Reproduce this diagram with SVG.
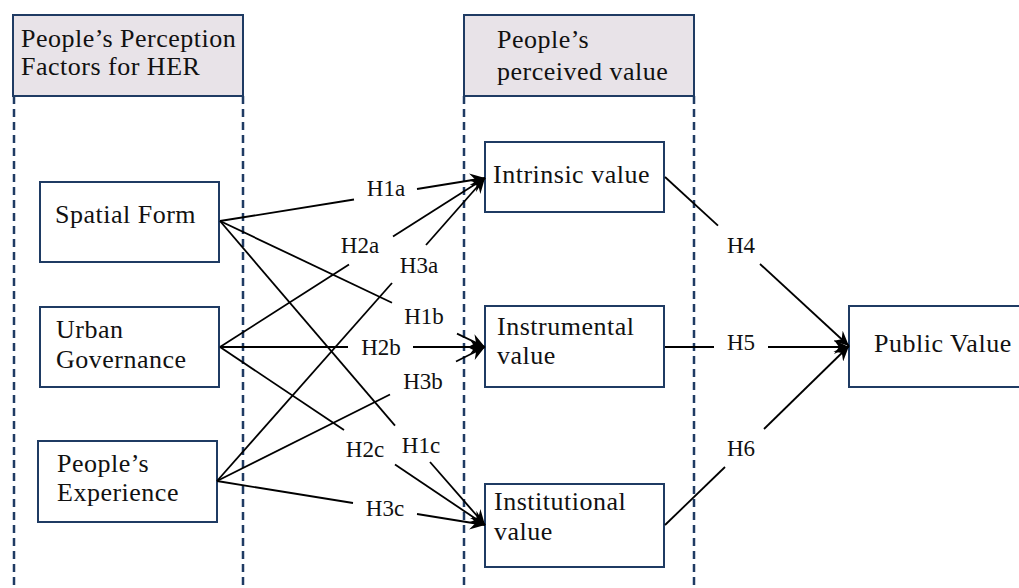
<svg xmlns="http://www.w3.org/2000/svg" width="1019" height="588" viewBox="0 0 1019 588">
<style>
.hdr{fill:#e8e3e8;stroke:#1f3b63;stroke-width:2}
.box{fill:#fff;stroke:#1f3b63;stroke-width:2}
.dash{stroke:#1f3b63;stroke-width:2.5;stroke-dasharray:8 5;fill:none}
.t{font-family:"Liberation Serif","Times New Roman",serif;font-size:26px;letter-spacing:0.5px;fill:#111}
.lbl{font-family:"Liberation Serif","Times New Roman",serif;font-size:23px;fill:#111;text-anchor:middle}
.c line{stroke:#000;stroke-width:1.8}
.c .a{marker-end:url(#ah)}
</style>
<defs>
<marker id="ah" markerUnits="userSpaceOnUse" markerWidth="16" markerHeight="14" refX="15" refY="7" orient="auto">
<path d="M0,0 L15,7 L0,14 L5,7 Z" fill="#000"/>
</marker>
</defs>
<g id="columns">
<line class="dash" x1="14" y1="96" x2="14" y2="588"/>
<line class="dash" x1="243" y1="96" x2="243" y2="588"/>
<line class="dash" x1="464" y1="96" x2="464" y2="588"/>
<line class="dash" x1="694" y1="96" x2="694" y2="588"/>
</g>
<g id="header-left">
<rect class="hdr" x="13" y="15" width="230" height="81"/>
<text class="t" x="21" y="47">People’s Perception</text>
<text class="t" x="21" y="75">Factors for HER</text>
</g>
<g id="header-right">
<rect class="hdr" x="464" y="15" width="230" height="81"/>
<text class="t" x="497" y="48">People’s</text>
<text class="t" x="497" y="80">perceived value</text>
</g>
<g id="spatial-form">
<rect class="box" x="40" y="182" width="179" height="80"/>
<text class="t" x="55" y="223">Spatial Form</text>
</g>
<g id="urban-governance">
<rect class="box" x="40" y="307" width="179" height="80"/>
<text class="t" x="56" y="338">Urban</text>
<text class="t" x="56" y="368">Governance</text>
</g>
<g id="peoples-experience">
<rect class="box" x="38" y="441" width="179" height="81"/>
<text class="t" x="57" y="472">People’s</text>
<text class="t" x="57" y="501">Experience</text>
</g>
<g id="intrinsic-value">
<rect class="box" x="485" y="142" width="179" height="70"/>
<text class="t" x="493" y="183">Intrinsic value</text>
</g>
<g id="instrumental-value">
<rect class="box" x="485" y="306" width="179" height="81"/>
<text class="t" x="497" y="335">Instrumental</text>
<text class="t" x="497" y="364">value</text>
</g>
<g id="institutional-value">
<rect class="box" x="485" y="484" width="179" height="83"/>
<text class="t" x="494" y="510">Institutional</text>
<text class="t" x="494" y="540">value</text>
</g>
<g id="public-value">
<rect class="box" x="849" y="306" width="180" height="81"/>
<text class="t" x="874" y="352">Public Value</text>
</g>
<g id="connectors" class="c">
<line x1="220" y1="221" x2="354" y2="199.5"/><line class="a" x1="417" y1="189" x2="485" y2="178"/>
<line x1="220" y1="347" x2="349" y2="264.5"/><line class="a" x1="393" y1="236.5" x2="485" y2="178"/>
<line x1="217" y1="481" x2="392" y2="283"/><line class="a" x1="426" y1="245" x2="485" y2="178"/>
<line x1="220" y1="221" x2="392" y2="302.7"/><line class="a" x1="457" y1="333.6" x2="485" y2="347"/>
<line x1="220" y1="347" x2="348" y2="347"/><line class="a" x1="413" y1="347" x2="485" y2="347"/>
<line x1="217" y1="481" x2="390" y2="394.5"/><line class="a" x1="456" y1="361.5" x2="485" y2="347"/>
<line x1="220" y1="221" x2="395" y2="425.7"/><line class="a" x1="430" y1="462" x2="485" y2="525"/>
<line x1="220" y1="347" x2="344" y2="430"/><line class="a" x1="395" y1="464.6" x2="485" y2="525"/>
<line x1="217" y1="481" x2="353" y2="503"/><line class="a" x1="417" y1="514" x2="485" y2="525"/>
<line x1="665" y1="177" x2="718" y2="225.7"/><line class="a" x1="760" y1="264" x2="849" y2="346"/>
<line x1="665" y1="347" x2="714" y2="347"/><line class="a" x1="768" y1="347" x2="849" y2="347"/>
<line x1="665" y1="525" x2="725" y2="467"/><line class="a" x1="764" y1="429" x2="849" y2="346"/>
</g>
<g id="labels">
<text class="lbl" x="386" y="196">H1a</text>
<text class="lbl" x="360" y="253">H2a</text>
<text class="lbl" x="419" y="273">H3a</text>
<text class="lbl" x="424" y="324">H1b</text>
<text class="lbl" x="381" y="355">H2b</text>
<text class="lbl" x="423" y="389">H3b</text>
<text class="lbl" x="365" y="457">H2c</text>
<text class="lbl" x="421" y="453">H1c</text>
<text class="lbl" x="385" y="516">H3c</text>
<text class="lbl" x="741" y="253">H4</text>
<text class="lbl" x="741" y="350">H5</text>
<text class="lbl" x="741" y="456">H6</text>
</g>
</svg>
